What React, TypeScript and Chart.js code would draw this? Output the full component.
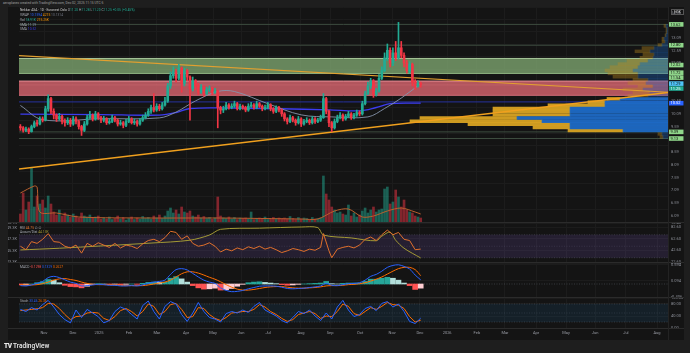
import React, { useEffect, useRef } from 'react';
import { Chart, registerables } from 'chart.js';
Chart.register(...registerables);

// ---------------- data ----------------
const firstOpen = 9.6;
const closes = [
  9.55, 9.45, 9.5, 9.4, 9.6, 9.75, 9.7, 9.9, 9.85, 10.3,
  10.7, 10.2, 10.05, 9.9, 10.0, 9.8, 9.75, 9.85, 9.7, 9.9,
  9.8, 9.6, 9.45, 9.7, 9.95, 10.05, 9.9, 10.1, 9.95, 9.85,
  9.9, 9.75, 9.8, 9.95, 9.85, 9.7, 9.75, 9.65, 9.8, 9.9,
  9.75, 9.8, 9.7, 9.85, 9.95, 10.05, 10.2, 10.35, 10.25, 10.4,
  10.3, 10.45, 10.6, 11.2, 11.6, 11.75, 11.5, 11.9, 11.3, 11.8,
  11.55, 11.1, 11.4, 11.2, 10.95, 11.15, 10.9, 11.05, 11.1, 10.95,
  11.0, 10.35, 10.25, 10.3, 10.45, 10.35, 10.4, 10.5, 10.3, 10.4,
  10.35, 10.25, 10.4, 10.45, 10.35, 10.5, 10.4, 10.3, 10.35, 10.45,
  10.3, 10.2, 10.35, 10.25, 10.1, 9.9, 9.8, 9.95, 9.85, 9.75,
  9.9, 9.7, 9.8, 9.85, 9.75, 9.9, 9.8, 9.85, 9.95, 10.7,
  10.2, 9.75, 9.55, 9.8, 9.95, 10.05, 9.9, 10.0, 10.1, 9.95,
  10.05, 10.15, 10.1, 10.5, 10.9, 11.2, 11.4, 10.85, 11.0, 11.5,
  11.8, 12.3, 12.6, 12.1, 12.5, 12.3, 12.7, 12.4, 12.1, 11.8,
  12.05, 11.35, 11.2, 11.3, 11.25,
];
const highs = [
  9.68, 9.6, 9.58, 9.55, 9.66, 9.82, 9.85, 9.98, 9.98, 10.4,
  10.85, 10.75, 10.3, 10.1, 10.12, 10.05, 9.9, 9.95, 9.92, 10.0,
  9.98, 9.85, 9.65, 9.8, 10.05, 10.2, 10.1, 10.2, 10.15, 10.0,
  10.0, 9.95, 9.9, 10.05, 10.0, 9.9, 9.85, 9.8, 9.88, 10.0,
  9.95, 9.9, 9.85, 9.92, 10.05, 10.15, 10.3, 10.45, 10.9, 10.5,
  10.48, 10.55, 10.75, 11.3, 11.75, 11.95, 11.85, 12.05, 11.95, 11.9,
  11.85, 11.6, 11.55, 11.45, 11.3, 11.25, 11.2, 11.15, 11.2, 11.15,
  11.1, 11.02, 10.4, 10.4, 10.55, 10.5, 10.5, 10.6, 10.55, 10.48,
  10.45, 10.4, 10.5, 10.55, 10.5, 10.6, 10.55, 10.45, 10.45, 10.55,
  10.5, 10.35, 10.42, 10.4, 10.3, 10.15, 9.95, 10.05, 10.0, 9.9,
  10.0, 9.95, 9.88, 9.95, 9.9, 10.0, 9.95, 9.92, 10.05, 10.9,
  10.75, 10.25, 9.8, 9.9, 10.05, 10.15, 10.1, 10.08, 10.2, 10.15,
  10.12, 10.25, 10.22, 10.6, 11.0, 11.35, 11.5, 11.45, 11.1, 11.65,
  11.95, 12.5, 12.85, 12.7, 12.7, 12.95, 13.7, 12.95, 12.5, 12.2,
  12.15, 12.1, 11.45, 11.4, 11.35,
];
const lows = [
  9.45, 9.38, 9.4, 9.32, 9.38, 9.55, 9.62, 9.66, 9.78, 9.82,
  10.2, 10.1, 9.9, 9.8, 9.85, 9.7, 9.62, 9.68, 9.6, 9.65,
  9.7, 9.5, 9.25, 9.4, 9.65, 9.9, 9.82, 9.85, 9.88, 9.75,
  9.78, 9.68, 9.7, 9.75, 9.78, 9.62, 9.65, 9.55, 9.6, 9.75,
  9.7, 9.68, 9.62, 9.65, 9.8, 9.9, 10.0, 10.12, 10.18, 10.2,
  10.22, 10.25, 10.4, 10.55, 11.1, 11.5, 11.35, 11.45, 10.95, 11.2,
  11.4, 9.85, 11.0, 11.05, 10.85, 10.9, 10.8, 10.85, 10.98, 10.85,
  10.9, 9.55, 10.1, 10.15, 10.25, 10.28, 10.3, 10.35, 10.25, 10.25,
  10.28, 10.18, 10.2, 10.35, 10.28, 10.3, 10.35, 10.22, 10.25, 10.3,
  10.22, 10.12, 10.15, 10.18, 10.0, 9.82, 9.7, 9.75, 9.78, 9.65,
  9.7, 9.6, 9.65, 9.75, 9.68, 9.7, 9.72, 9.75, 9.8, 9.92,
  10.1, 9.6, 9.4, 9.5, 9.75, 9.9, 9.82, 9.85, 9.95, 9.88,
  9.9, 10.0, 10.02, 10.05, 10.45, 10.85, 11.1, 10.75, 10.8, 10.95,
  11.45, 11.75, 12.2, 11.95, 12.0, 12.2, 12.25, 12.3, 11.95, 11.7,
  11.7, 11.2, 11.05, 11.15, 11.15,
];
const volumes = [
  80, 290, 120, 200, 540, 150, 260, 180, 220, 140,
  260, 180, 100, 70, 120, 60, 90, 70, 50, 80,
  60, 40, 90, 60, 50, 70, 40, 50, 60, 30,
  40, 30, 50, 25, 35, 60, 30, 45, 20, 35,
  50, 25, 40, 30, 55, 35, 45, 30, 60, 40,
  70, 35, 60, 110, 140, 90, 120, 80, 150, 100,
  90, 110, 60, 50, 70, 40, 55, 35, 45, 30,
  40, 250, 60, 40, 35, 50, 30, 45, 25, 40,
  35, 40, 30, 100, 25, 35, 40, 30, 50, 25,
  35, 45, 30, 40, 35, 40, 30, 55, 35, 25,
  45, 30, 40, 35, 25, 45, 30, 35, 40, 460,
  280, 220, 150, 120, 90, 100, 80, 70, 170, 60,
  90, 50, 70, 110, 140, 90, 120, 150, 100, 120,
  130, 330, 350, 180, 200, 320, 250, 150, 220, 120,
  100, 90, 60, 50, 40,
];
const volMaX = [0, 5, 6, 7, 13, 21, 47, 72, 101, 107, 113, 118, 123, 127, 132, 137, 142, 144];
const volMaY = [290, 360, 350, 100, 90, 50, 40, 40, 30, 30, 110, 130, 50, 60, 110, 140, 100, 80];

const smaGrayX = [0, 8, 29, 50, 56, 63, 71, 77, 89, 101, 112, 125, 131, 137, 144];
const smaGrayY = [10.43, 9.87, 9.91, 9.94, 10.17, 10.61, 10.98, 10.98, 10.5, 10.06, 9.98, 9.98, 10.31, 10.72, 11.29];
const smaBlueX = [0, 29, 50, 56, 61, 75, 93, 111, 122, 128, 133, 144];
const smaBlueY = [10.09, 10.07, 10.05, 10.15, 10.31, 10.33, 10.3, 10.26, 10.22, 10.35, 10.5, 10.52];

const trendLowY = [7.93, 10.94];
const trendHighY = [12.39, 10.95];
const zoneTop = [12.28, 11.39];
const zoneBottom = [11.69, 10.83];
const levelLines = [13.62, 12.8, 9.39, 9.13];
const navyLevel = 10.57;
const pinkLevel = 11.24;

const vpPrice = [9.19, 9.31, 9.44, 9.56, 9.69, 9.81, 9.94, 10.06, 10.19, 10.31, 10.44, 10.56, 10.69, 10.81, 10.94, 11.06, 11.19, 11.31, 11.44, 11.56, 11.69, 11.81, 11.94, 12.06, 12.19, 12.31, 12.44, 12.56, 12.69, 12.81, 12.94, 13.06, 13.19, 13.31, 13.44, 13.56];
const vpUp = [5, 6, 45, 98, 98, 126, 151, 98, 98, 98, 63, 63, 48, 20, 18, 25, 15, 22, 20, 30, 30, 35, 30, 28, 20, 15, 14, 18, 14, 6, 3, 4, 2, 1, 1, 2];
const vpTotal = [8, 10, 100, 135, 200, 258, 248, 175, 175, 175, 120, 80, 61, 40, 35, 45, 30, 40, 35, 55, 60, 63, 58, 50, 41, 28, 25, 33, 26, 10, 6, 6, 3, 2, 2, 4];
const valueAreaLow = 9.4;
const valueAreaHigh = 10.75;

const labelPrices = [13.62, 12.8, 12.02, 11.72, 11.54, 11.29, 11.25, 10.52, 9.39, 9.13];
const labelTexts = ['13.62', '12.80', '12.02', '11.72', '11.54', '11.29', '11.25', '10.52', '9.39', '9.13'];
const labelBg = ['#8fd68a', '#8fd68a', '#8fd68a', '#8fd68a', '#8fd68a', '#4fc3f7', '#22ab94', '#2962ff', '#8fd68a', '#8fd68a'];
const labelFg = ['#111', '#111', '#111', '#111', '#111', '#111', '#fff', '#fff', '#111', '#111'];

const rsiX = [0, 2, 4, 6, 8, 10, 12, 14, 16, 18, 20, 22, 24, 26, 28, 30, 32, 34, 36, 38, 40, 42, 44, 46, 48, 50, 52, 54, 56, 58, 60, 62, 64, 66, 68, 70, 72, 74, 76, 78, 80, 82, 84, 86, 88, 90, 92, 94, 96, 98, 100, 102, 104, 106, 108, 109, 111, 112, 114, 116, 118, 120, 122, 124, 126, 128, 130, 132, 134, 136, 138, 140, 142, 144];
const rsiY = [50, 44, 58, 55, 62, 72, 58, 57, 50, 47, 52, 38, 55, 50, 56, 52, 48, 55, 47, 52, 50, 46, 54, 60, 62, 58, 65, 76, 74, 62, 68, 55, 50, 52, 56, 50, 40, 45, 42, 47, 44, 49, 46, 50, 45, 48, 44, 39, 42, 46, 44, 41, 45, 43, 48, 72, 42, 30, 45, 48, 50, 47, 52, 62, 66, 60, 70, 78, 70, 74, 62, 60, 44, 45];
const adX = [0, 14, 29, 47, 61, 68, 72, 86, 101, 107, 109, 119, 128, 130, 133, 135, 138, 144];
const adY = [45.4, 45.7, 46.1, 46.6, 47.1, 48.0, 49.0, 49.2, 49.4, 49.3, 48.0, 47.5, 47.0, 47.8, 48.5, 47.1, 45.7, 44.0];

const oscX = [0, 2, 4, 6, 8, 10, 12, 14, 16, 18, 20, 22, 24, 26, 28, 30, 32, 34, 36, 38, 40, 42, 44, 46, 48, 50, 52, 54, 56, 58, 60, 62, 64, 66, 68, 70, 72, 74, 76, 78, 80, 82, 84, 86, 88, 90, 92, 94, 96, 98, 100, 102, 104, 106, 108, 110, 112, 114, 116, 118, 120, 122, 124, 126, 128, 130, 132, 134, 136, 138, 140, 142, 144];
const macdLine = [-0.05, -0.06, -0.03, 0.02, 0.08, 0.2, 0.24, 0.2, 0.13, 0.06, 0.02, -0.06, -0.05, -0.03, -0.01, -0.02, -0.04, -0.04, -0.06, -0.06, -0.05, -0.06, -0.03, 0.02, 0.06, 0.08, 0.12, 0.3, 0.45, 0.48, 0.44, 0.33, 0.22, 0.12, 0.06, 0.02, -0.12, -0.2, -0.24, -0.23, -0.2, -0.15, -0.11, -0.07, -0.06, -0.06, -0.07, -0.1, -0.14, -0.15, -0.14, -0.13, -0.11, -0.09, -0.06, 0.02, -0.04, -0.05, -0.02, 0.01, 0.02, 0.04, 0.12, 0.24, 0.3, 0.4, 0.52, 0.58, 0.6, 0.55, 0.47, 0.28, 0.13];
const macdSignal = [-0.02, -0.03, -0.03, -0.02, 0.01, 0.06, 0.12, 0.16, 0.17, 0.14, 0.11, 0.06, 0.02, -0.01, -0.02, -0.02, -0.02, -0.03, -0.04, -0.05, -0.05, -0.05, -0.05, -0.03, 0.0, 0.03, 0.06, 0.12, 0.22, 0.32, 0.38, 0.38, 0.34, 0.28, 0.21, 0.15, 0.07, -0.02, -0.1, -0.16, -0.19, -0.19, -0.17, -0.14, -0.11, -0.09, -0.08, -0.08, -0.1, -0.12, -0.13, -0.13, -0.12, -0.11, -0.09, -0.06, -0.05, -0.05, -0.04, -0.02, -0.01, 0.01, 0.04, 0.09, 0.15, 0.22, 0.31, 0.4, 0.48, 0.52, 0.52, 0.45, 0.26];
const stochK = [62, 55, 68, 60, 78, 92, 70, 45, 28, 17, 60, 35, 62, 50, 38, 17, 25, 55, 70, 62, 45, 30, 75, 90, 55, 30, 72, 88, 80, 45, 22, 50, 85, 55, 35, 30, 20, 48, 55, 50, 60, 52, 72, 85, 60, 50, 40, 25, 17, 35, 55, 48, 60, 40, 25, 50, 30, 70, 92, 60, 38, 45, 65, 72, 58, 82, 88, 70, 80, 55, 22, 15, 33];
const stochD = [58, 60, 62, 64, 68, 82, 80, 65, 45, 28, 38, 40, 50, 52, 50, 32, 25, 38, 58, 65, 55, 40, 55, 80, 72, 45, 55, 78, 82, 62, 35, 38, 68, 65, 45, 32, 25, 35, 50, 52, 55, 55, 62, 78, 70, 55, 45, 32, 22, 28, 45, 50, 55, 48, 32, 40, 38, 55, 80, 72, 48, 42, 55, 68, 62, 72, 85, 78, 76, 65, 38, 20, 26];

const monthPos = [8.5, 18.9, 28.3, 39.1, 49.1, 59.6, 69.3, 79.4, 89.1, 100.9, 111.4, 122.2, 133.7, 143.7, 153.5, 164.2, 174.3, 185.5, 196.3, 206.7, 217.8, 229.0];
const monthLabels = ['Nov', 'Dec', '2025', 'Feb', 'Mar', 'Apr', 'May', 'Jun', 'Jul', 'Aug', 'Sep', 'Oct', 'Nov', 'Dec', '2026', 'Feb', 'Mar', 'Apr', 'May', 'Jun', 'Jul', 'Aug'];

// ---------------- style ----------------
const UP = '#22ab94';
const DOWN = '#f23645';
const GRID = '#1c1c1c';
const TICK = '#8d9099';
const FONT = 'Roboto, "DejaVu Sans", sans-serif';
const X_MIN = -0.5;
const X_MAX = 232.95;
const PRICE_MIN = 6.093;
const PRICE_MAX = 14.056;

const opens = closes.map((c, i) => (i === 0 ? firstOpen : closes[i - 1]));
const isUp = closes.map((c, i) => c >= opens[i]);

function xAxis(showLabels: boolean) {
  return {
    type: 'linear', min: X_MIN, max: X_MAX, bounds: 'data', offset: false,
    grid: { color: GRID, drawTicks: false, offset: false },
    border: { display: false },
    ticks: {
      display: showLabels, autoSkip: false, maxRotation: 0, minRotation: 0, padding: 3,
      color: '#9a9da6', font: { family: FONT, size: 4 },
      callback: (_v: any, i: number) => monthLabels[i] || '',
    },
    afterBuildTicks: (s: any) => { s.ticks = monthPos.map((v) => ({ value: v })); },
    afterFit: (s: any) => { s.height = showLabels ? 12 : 0; s.paddingLeft = 0; s.paddingRight = 0; },
  };
}
function rightAxis(min: number, max: number, step: number, digits: number) {
  return {
    type: 'linear', position: 'right', min, max, bounds: 'data',
    grid: { color: GRID, drawTicks: false },
    border: { display: false },
    ticks: {
      stepSize: step, maxTicksLimit: 40, includeBounds: false, padding: 3, color: TICK,
      font: { family: FONT, size: 4 }, callback: (v: any) => Number(v).toFixed(digits),
    },
    afterFit: (s: any) => { s.width = 16; s.paddingTop = 0; s.paddingBottom = 0; },
  };
}
function line(xs: number[], ys: number[], color: string, width: number, extra: any = {}) {
  return {
    type: 'line', data: xs.map((x, i) => ({ x, y: ys[i] })), borderColor: color, borderWidth: width,
    pointRadius: 0, fill: false, tension: 0, ...extra,
  };
}
function hline(p: number, color: string, width: number, extra: any = {}) {
  return line([X_MIN, X_MAX], [p, p], color, width, extra);
}
const baseOptions = (padLeft: number) => ({
  responsive: false, animation: false, devicePixelRatio: 1, events: [],
  layout: { padding: { left: padLeft, right: 0, top: 0, bottom: 0 } },
  plugins: { legend: { display: false }, tooltip: { enabled: false } },
});

const levelLabelPlugin = {
  id: 'levelLabels',
  afterDraw(chart: any) {
    const ys = chart.scales.y;
    const area = chart.chartArea;
    const ctx = chart.ctx;
    const items = labelPrices
      .map((p, i) => ({ y: ys.getPixelForValue(p), t: labelTexts[i], bg: labelBg[i], fg: labelFg[i] }))
      .sort((a, b) => a.y - b.y);
    const h = 4.6;
    let last = -1e9;
    ctx.save();
    ctx.font = `4px ${FONT}`;
    ctx.textBaseline = 'middle';
    ctx.textAlign = 'left';
    for (const it of items) {
      const cy = Math.max(it.y, last + h + 0.3);
      last = cy;
      ctx.fillStyle = it.bg;
      ctx.fillRect(area.right + 1, cy - h / 2, 14.5, h);
      ctx.fillStyle = it.fg;
      ctx.fillText(it.t, area.right + 2.5, cy + 0.2);
    }
    ctx.restore();
  },
};

function mainConfig(): any {
  const inVA = (q: number) => q >= valueAreaLow && q <= valueAreaHigh;
  return {
    type: 'bar',
    data: {
      datasets: [
        // zones
        line([X_MIN, X_MAX], [zoneTop[0], zoneTop[0]], '#a9c99c', 1, { fill: { value: zoneBottom[0] }, backgroundColor: 'rgba(122,160,108,0.82)', order: 9 }),
        hline(zoneBottom[0], '#9dbf8f', 1, { order: 9 }),
        line([X_MIN, X_MAX], [zoneTop[1], zoneTop[1]], '#e48c95', 1, { fill: { value: zoneBottom[1] }, backgroundColor: 'rgba(200,94,104,0.88)', order: 9 }),
        hline(zoneBottom[1], '#d77480', 1, { order: 9 }),
        hline(pinkLevel, 'rgba(255,195,200,0.55)', 0.8, { order: 9 }),
        // levels
        ...levelLines.map((p) => hline(p, '#3d4c3f', 1, { order: 8 })),
        hline(navyLevel, '#27319e', 1, { order: 8 }),
        // volume profile
        {
          type: 'bar', indexAxis: 'y', xAxisID: 'xvp', yAxisID: 'y', grouped: false, barThickness: 2.8, order: 7,
          data: vpPrice.map((p, i) => ({ x: [0, vpUp[i]], y: p })),
          backgroundColor: vpPrice.map((q) => (inVA(q) ? 'rgba(30,110,205,0.9)' : 'rgba(30,100,190,0.35)')),
          borderWidth: 0,
        },
        {
          type: 'bar', indexAxis: 'y', xAxisID: 'xvp', yAxisID: 'y', grouped: false, barThickness: 2.8, order: 7,
          data: vpPrice.map((p, i) => ({ x: [vpUp[i], vpTotal[i]], y: p })),
          backgroundColor: vpPrice.map((q) => (inVA(q) ? 'rgba(226,170,34,0.9)' : 'rgba(190,140,30,0.38)')),
          borderWidth: 0,
        },
        // volume
        {
          type: 'bar', xAxisID: 'x', yAxisID: 'yv', grouped: false, barThickness: 2, order: 6,
          data: volumes.map((v, i) => ({ x: i, y: v })),
          backgroundColor: isUp.map((u) => (u ? 'rgba(34,171,148,0.5)' : 'rgba(242,54,69,0.5)')),
          borderWidth: 0,
        },
        line(volMaX, volMaY, '#b9602e', 1, { yAxisID: 'yv', order: 5, tension: 0.3 }),
        // SMAs
        line(smaGrayX, smaGrayY, '#8795ad', 0.9, { order: 4, tension: 0.35 }),
        line(smaBlueX, smaBlueY, '#3c3cf0', 1.3, { order: 4, tension: 0.35 }),
        // trend lines
        line([X_MIN, X_MAX], trendLowY, '#f0a01e', 1.4, { order: 3 }),
        line([X_MIN, X_MAX], trendHighY, '#e2a030', 1.2, { order: 3 }),
        // candles
        {
          type: 'bar', xAxisID: 'x', yAxisID: 'y', grouped: false, barThickness: 1, order: 2,
          data: closes.map((_c, i) => ({ x: i, y: [lows[i], highs[i]] })),
          backgroundColor: isUp.map((u) => (u ? UP : DOWN)), borderWidth: 0,
        },
        {
          type: 'bar', xAxisID: 'x', yAxisID: 'y', grouped: false, barThickness: 2, minBarLength: 1, order: 1,
          data: closes.map((c, i) => ({ x: i, y: [opens[i], c] })),
          backgroundColor: isUp.map((u) => (u ? UP : DOWN)), borderWidth: 0,
        },
      ],
    },
    options: {
      ...baseOptions(11),
      scales: {
        x: xAxis(false),
        y: rightAxis(PRICE_MIN, PRICE_MAX, 0.5, 2),
        yv: { type: 'linear', display: false, min: 0, max: 2150 },
        xvp: {
          type: 'linear', position: 'top', min: 0, max: 649, reverse: true, bounds: 'data', offset: false,
          grid: { display: false, drawTicks: false }, border: { display: false }, ticks: { display: false },
          afterFit: (s: any) => { s.height = 0; s.paddingLeft = 0; s.paddingRight = 0; },
        },
      },
    },
    plugins: [levelLabelPlugin],
  };
}

function rsiConfig(): any {
  return {
    type: 'line',
    data: {
      datasets: [
        line([X_MIN, X_MAX], [70, 70], 'rgba(120,123,134,0.55)', 0.6, { borderDash: [1, 1.5], fill: { value: 30 }, backgroundColor: 'rgba(126,87,194,0.17)', order: 5 }),
        hline(50, 'rgba(120,123,134,0.4)', 0.6, { borderDash: [1, 1.5], order: 5 }),
        hline(30, 'rgba(120,123,134,0.55)', 0.6, { borderDash: [1, 1.5], order: 5 }),
        line(adX, adY, '#a39a35', 1, { yAxisID: 'yad', tension: 0.3, order: 2 }),
        line(rsiX, rsiY, '#e0702c', 1, { order: 1 }),
      ],
    },
    options: {
      ...baseOptions(0),
      scales: {
        x: xAxis(false),
        y: rightAxis(22.6, 90.4, 20, 2),
        yad: {
          type: 'linear', position: 'left', min: 43.3, max: 50.1, bounds: 'data',
          grid: { display: false, drawTicks: false }, border: { display: false },
          ticks: { stepSize: 2, includeBounds: false, padding: 2, color: TICK, font: { family: FONT, size: 4 }, callback: (v: any) => `${v}K` },
          afterFit: (s: any) => { s.width = 11; s.paddingTop = 0; s.paddingBottom = 0; },
        },
      },
    },
  };
}

function macdConfig(): any {
  const hist = macdLine.map((m, i) => m - macdSignal[i]);
  const histColors = hist.map((h, i) => {
    const prev = i === 0 ? 0 : hist[i - 1];
    if (h >= 0) return h >= prev ? '#26a69a' : '#b2dfdb';
    return h < prev ? '#ff5252' : '#ffcdd2';
  });
  return {
    type: 'bar',
    data: {
      datasets: [
        hline(0, 'rgba(120,123,134,0.6)', 0.6, { borderDash: [1, 1.5], order: 5 }),
        {
          type: 'bar', grouped: false, barThickness: 5, order: 4, borderWidth: 0,
          data: oscX.map((x, i) => ({ x, y: hist[i] })), backgroundColor: histColors,
        },
        line(oscX, macdSignal, '#ff6d00', 1, { order: 2, tension: 0.3 }),
        line(oscX, macdLine, '#2962ff', 1, { order: 1, tension: 0.3 }),
      ],
    },
    options: {
      ...baseOptions(11),
      scales: { x: xAxis(false), y: rightAxis(-0.406, 0.656, 0.5, 3) },
    },
  };
}

function stochConfig(): any {
  return {
    type: 'line',
    data: {
      datasets: [
        line([X_MIN, X_MAX], [80, 80], 'rgba(120,123,134,0.55)', 0.6, { borderDash: [1, 1.5], fill: { value: 20 }, backgroundColor: 'rgba(33,150,243,0.09)', order: 5 }),
        hline(50, 'rgba(120,123,134,0.4)', 0.6, { borderDash: [1, 1.5], order: 5 }),
        hline(20, 'rgba(120,123,134,0.55)', 0.6, { borderDash: [1, 1.5], order: 5 }),
        line(oscX, stochD, '#ff6d00', 1, { order: 2 }),
        line(oscX, stochK, '#2962ff', 1, { order: 1 }),
      ],
    },
    options: {
      ...baseOptions(11),
      scales: { x: xAxis(true), y: rightAxis(0, 100, 40, 2) },
    },
  };
}

function ChartCanvas({ top, height, build }: { top: number; height: number; build: () => any }) {
  const ref = useRef<HTMLCanvasElement>(null);
  useEffect(() => {
    const chart = new Chart(ref.current as HTMLCanvasElement, build());
    return () => chart.destroy();
  }, []);
  return (
    <canvas ref={ref} width={676} height={height}
      style={{ position: 'absolute', left: 8, top, width: 676, height, display: 'block' }} />
  );
}

function Legend({ top, parts }: { top: number; parts: [string, string][] }) {
  return (
    <div style={{ position: 'absolute', left: 20, top, fontSize: 3.3, lineHeight: '4px', whiteSpace: 'nowrap', fontFamily: FONT }}>
      {parts.map(([t, c], i) => (
        <span key={i} style={{ color: c }}>{t}</span>
      ))}
    </div>
  );
}

const GRAY = '#a8abb3';

export default function App() {
  return (
    <div style={{ position: 'absolute', left: 0, top: 0, width: 690, height: 353, background: '#1e1e1e', overflow: 'hidden', fontFamily: FONT }}>
      <div style={{ position: 'absolute', left: 3, top: 0.8, fontSize: 3.3, color: '#a0a0a0', whiteSpace: 'nowrap' }}>
        aeroplanex created with TradingView.com, Dec 02, 2025 11:15 UTC-5
      </div>
      <div style={{ position: 'absolute', left: 8, top: 7, width: 676, height: 333, background: '#141414' }} />
      <ChartCanvas top={7} height={215} build={mainConfig} />
      <ChartCanvas top={223} height={39} build={rsiConfig} />
      <ChartCanvas top={263} height={34} build={macdConfig} />
      <ChartCanvas top={298} height={42} build={stochConfig} />
      {/* separators */}
      <div style={{ position: 'absolute', left: 8, top: 222, width: 676, height: 1, background: '#2b2b2b' }} />
      <div style={{ position: 'absolute', left: 8, top: 262, width: 676, height: 1, background: '#2b2b2b' }} />
      <div style={{ position: 'absolute', left: 8, top: 297, width: 676, height: 1, background: '#2b2b2b' }} />
      <div style={{ position: 'absolute', left: 8, top: 328, width: 676, height: 1, background: '#2b2b2b' }} />
      <div style={{ position: 'absolute', left: 668, top: 7, width: 1, height: 333, background: '#232323' }} />
      <div style={{ position: 'absolute', left: 671, top: 8.5, width: 11, height: 4, border: '0.5px solid #555', fontSize: 3.2, lineHeight: '4px', color: '#cfcfcf', textAlign: 'center' }}>NOK</div>
      {/* legends */}
      <Legend top={8.3} parts={[['Nekkar ASA · 1D · Euronext Oslo  ', '#cfcfcf'], ['O', GRAY], ['11.20 ', UP], ['H', GRAY], ['11.28 ', UP], ['L', GRAY], ['11.20 ', UP], ['C', GRAY], ['11.25 ', UP], ['+0.05 (+0.45%)', UP]]} />
      <Legend top={13} parts={[['VWAP  ', GRAY], ['10.7594  ', '#2962ff'], ['4275  ', '#ff9800'], ['10.1314', '#6f7380']]} />
      <Legend top={17.8} parts={[['Vol  ', GRAY], ['18.91K  ', UP], ['275.25K', '#ff9800']]} />
      <Legend top={22.6} parts={[['SMA  ', GRAY], ['11.29', '#8795ad']]} />
      <Legend top={27.4} parts={[['SMA  ', GRAY], ['10.52', '#3c3cf0']]} />
      <Legend top={225.5} parts={[['RSI  ', GRAY], ['44.75  ', '#e0702c'], ['∅  ∅', GRAY]]} />
      <Legend top={230} parts={[['Accum/Dist  ', GRAY], ['44.13K', '#a39a35']]} />
      <Legend top={265} parts={[['MACD  ', GRAY], ['-0.1298  ', '#ff5252'], ['0.1329  ', '#2962ff'], ['0.2627', '#ff6d00']]} />
      <Legend top={298.5} parts={[['Stoch  ', GRAY], ['33.46  ', '#2962ff'], ['26.35', '#ff6d00']]} />
      {/* footer logo */}
      <div style={{ position: 'absolute', left: 4, top: 341.5, fontSize: 6.5, lineHeight: '8px', color: '#ececec', whiteSpace: 'nowrap' }}>
        <span style={{ fontWeight: 900, letterSpacing: -0.4 }}>TV</span>
        <span style={{ fontWeight: 500 }}> TradingView</span>
      </div>
    </div>
  );
}
